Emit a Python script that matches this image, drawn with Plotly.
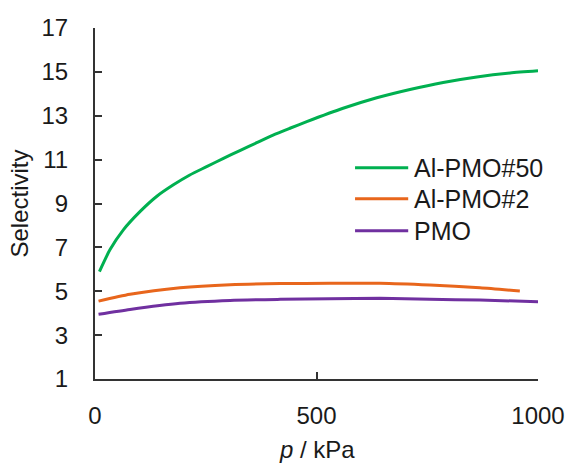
import plotly.graph_objects as go

# Pressure (kPa) and selectivity for each material
p_pmo50 = [10, 34, 64, 102, 139, 177, 214, 252, 290, 327, 365, 402, 440, 478,
           560, 636, 711, 786, 862, 937, 1000]
s_pmo50 = [5.9, 6.9, 7.8, 8.64, 9.32, 9.85, 10.3, 10.68, 11.06, 11.41, 11.77,
           12.12, 12.43, 12.73, 13.34, 13.82, 14.2, 14.52, 14.77, 14.95, 15.05]

p_pmo2 = [8, 79, 192, 305, 418, 530, 643, 756, 869, 959]
s_pmo2 = [4.55, 4.86, 5.16, 5.30, 5.35, 5.36, 5.36, 5.28, 5.16, 5.01]

p_pmo = [8, 79, 192, 305, 418, 530, 643, 756, 869, 1000]
s_pmo = [3.95, 4.17, 4.45, 4.58, 4.63, 4.66, 4.68, 4.63, 4.60, 4.52]

names = ["Al-PMO#50", "Al-PMO#2", "PMO"]
colors = ["#00B050", "#E8661C", "#7030A0"]
series = [(p_pmo50, s_pmo50), (p_pmo2, s_pmo2), (p_pmo, s_pmo)]

x_ticks = [0, 500, 1000]
y_ticks = [1, 3, 5, 7, 9, 11, 13, 15, 17]

FONT = "Liberation Sans, Arial, sans-serif"
TXT = "#1a1a1a"
AX = "#333333"

fig = go.Figure()
for (xs, ys), name, col in zip(series, names, colors):
    fig.add_trace(go.Scatter(x=xs, y=ys, name=name, mode="lines",
                             line=dict(color=col, width=3, shape="spline",
                                       smoothing=0.6),
                             showlegend=False))

# Legend drawn as short line samples with labels
legend_rows = [0.6017, 0.5135, 0.4225]
for name, col, yy in zip(names, colors, legend_rows):
    fig.add_shape(type="line", xref="paper", yref="paper",
                  x0=0.587, x1=0.707, y0=yy, y1=yy,
                  line=dict(color=col, width=3))
    fig.add_annotation(xref="paper", yref="paper", x=0.716, y=yy,
                       text=name, showarrow=False, xanchor="left",
                       yanchor="middle",
                       font=dict(family=FONT, size=25, color=TXT))

# x-axis title placed as an annotation so it can sit near the bottom edge
fig.add_annotation(xref="paper", yref="paper", x=0.5, y=-0.201,
                   text="<i>p</i> / kPa", showarrow=False,
                   xanchor="center", yanchor="middle",
                   font=dict(family=FONT, size=24, color=TXT))

axis_common = dict(showline=True, linecolor=AX, linewidth=2,
                   ticks="inside", ticklen=7, tickwidth=2, tickcolor=AX,
                   showgrid=False, zeroline=False, automargin=False,
                   tickfont=dict(family=FONT, size=24, color=TXT))

fig.update_layout(
    width=567, height=465,
    margin=dict(l=95, r=29, t=28, b=85.5),
    paper_bgcolor="white", plot_bgcolor="white",
    xaxis=dict(range=[0, 1000], tickvals=x_ticks,
               ticklabelstandoff=14,
               **axis_common),
    yaxis=dict(range=[1, 17], tickvals=y_ticks,
               ticklabelstandoff=20,
               title=dict(text="Selectivity", standoff=6,
                          font=dict(family=FONT, size=24, color=TXT)),
               **axis_common),
)

fig.write_html("out.html")
